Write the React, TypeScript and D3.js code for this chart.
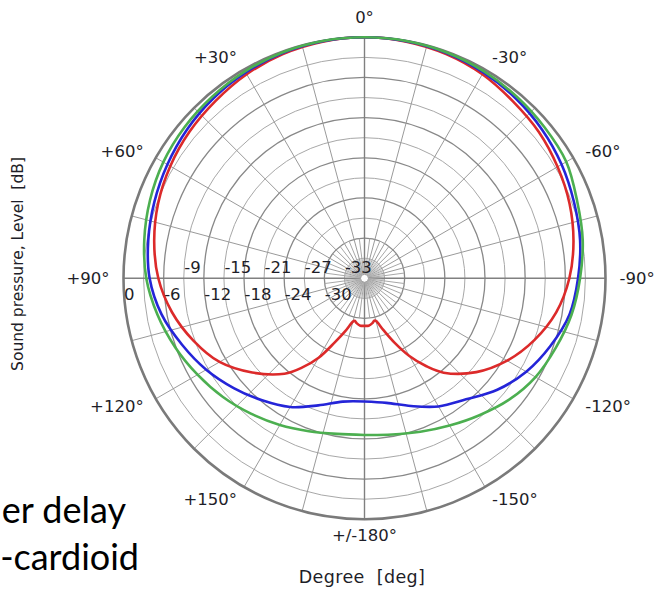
import React from "react";
import * as d3 from "d3";

const W = 657;
const H = 589;

const angles = [-180,-170,-160,-150,-140,-130,-120,-110,-100,-90,-80,-70,-60,-50,-40,-30,-20,-10,0,10,20,30,40,50,60,70,80,90,100,110,120,130,140,150,160,170,180];
const greenVals = [-12.6,-12.3,-11.6,-10.6,-9.3,-7.8,-6.5,-5.6,-4.6,-3.8,-2.9,-2.2,-1.2,-0.9,-0.6,-0.3,-0.1,0,0,0,-0.1,-0.3,-0.6,-0.9,-1.3,-1.9,-2.6,-3.4,-4.6,-5.9,-7.2,-8.4,-9.6,-10.7,-11.7,-12.4,-12.6];
const blueVals = [-17.6,-17.1,-15.7,-13.9,-12.4,-10.1,-8.1,-6.45,-4.9,-4.1,-3.3,-2.7,-2.0,-1.4,-0.9,-0.5,-0.2,-0.05,0,-0.05,-0.2,-0.5,-0.9,-1.4,-2.0,-2.6,-3.2,-3.9,-5.2,-7.0,-8.7,-10.5,-12.2,-13.8,-15.8,-17.3,-17.6];

const redAngles = [-180,-175,-170,-167,-165,-160,-155,-150,-145,-140,-130,-120,-110,-100,-90,-80,-70,-60,-50,-40,-30,-20,-10,0,10,20,30,40,50,60,70,80,90,100,110,120,130,140,145,150,155,160,165,167,170,175,180];
const redVals = [-28.9,-28.9,-29.2,-29.5,-29.4,-27.8,-25.4,-22.6,-20.0,-17.6,-14.2,-11.4,-9.0,-6.9,-5.4,-4.3,-3.4,-2.7,-2.0,-1.5,-0.8,-0.35,-0.1,0,-0.1,-0.35,-0.8,-1.4,-1.9,-2.5,-3.2,-4.1,-5.2,-6.8,-8.8,-11.0,-14.1,-17.4,-19.7,-22.3,-25.4,-27.6,-29.3,-29.5,-29.2,-28.9,-28.9];

const ringLevels = [-33,-30,-27,-24,-21,-18,-15,-12,-9,-6,-3,0];
const scaleLabelsBelow = [0,-6,-12,-18,-24,-30];
const scaleLabelsAbove = [-9,-15,-21,-27,-33];
const angleLabels = [
  { deg: 0, text: "0°" },
  { deg: 30, text: "+30°" },
  { deg: 60, text: "+60°" },
  { deg: 90, text: "+90°" },
  { deg: 120, text: "+120°" },
  { deg: 150, text: "+150°" },
  { deg: 180, text: "+/-180°" },
  { deg: -30, text: "-30°" },
  { deg: -60, text: "-60°" },
  { deg: -90, text: "-90°" },
  { deg: -120, text: "-120°" },
  { deg: -150, text: "-150°" },
];

const CX = 364.5;
const CY = 278.3;
const R = 241;
const TEXT = "#1e1e28";
const FONT = "DejaVu Sans, Verdana, sans-serif";

export default function App() {
  const r = d3.scaleLinear().domain([-36, 0]).range([0, R]);
  const toRad = (deg: number) => (deg * Math.PI) / 180;

  const line = d3
    .lineRadial<{ a: number; v: number }>()
    .angle((d) => -toRad(d.a))
    .radius((d) => r(d.v))
    .curve(d3.curveCatmullRom.alpha(0.5));

  const mk = (as: number[], vs: number[]) => as.map((a, i) => ({ a, v: vs[i] }));
  const series = [
    { color: "#dc2a2a", d: line(mk(redAngles, redVals)) },
    { color: "#2424d8", d: line(mk(angles, blueVals)) },
    { color: "#4caf50", d: line(mk(angles, greenVals)) },
  ];

  const hole = 4;
  const spokes: { a: number; r0: number; r1: number; kind: number }[] = [];
  for (let i = 0; i < 96; i++) {
    const a = i * 3.75;
    if (i % 4 === 0) spokes.push({ a, r0: hole, r1: R, kind: a % 90 === 0 ? 3 : 2 });
    else if (i % 2 === 0) spokes.push({ a, r0: hole, r1: r(-30), kind: 1 });
    else spokes.push({ a, r0: hole, r1: r(-33), kind: 0 });
  }

  const pol = (deg: number, rad: number) => [CX - rad * Math.sin(toRad(deg)), CY - rad * Math.cos(toRad(deg))];

  return (
    <svg width={W} height={H} style={{ position: "absolute", left: 0, top: 0, background: "#fff" }}>
      <g transform={`translate(${CX},${CY})`}>
        {ringLevels.slice(0, -1).map((v) => (
          <circle key={v} r={r(v)} fill="none" stroke={v % 6 === 0 ? "#888" : "#a8a8a8"} strokeWidth={v % 6 === 0 ? 1.3 : 1} />
        ))}
        {spokes.map((s, i) => {
          const a = toRad(s.a);
          return (
            <line
              key={i}
              x1={s.r0 * Math.sin(a)}
              y1={-s.r0 * Math.cos(a)}
              x2={s.r1 * Math.sin(a)}
              y2={-s.r1 * Math.cos(a)}
              stroke={s.kind === 3 ? "#808080" : s.kind === 2 ? "#9a9a9a" : s.kind === 1 ? "#a8a8a8" : "#bdbdbd"}
              strokeWidth={s.kind === 3 ? 1.4 : s.kind === 0 ? 0.8 : 1}
            />
          );
        })}
        <circle r={hole} fill="#fff" stroke="#999" strokeWidth={1} />
        <circle r={R} fill="none" stroke="#7a7a7a" strokeWidth={2.6} />
        {series.map((s, i) => (
          <path key={i} d={s.d || ""} fill="none" stroke={s.color} strokeWidth={2.6} strokeLinejoin="round" />
        ))}
      </g>
      <g fontFamily={FONT} fontSize={16.5} fill={TEXT}>
        {scaleLabelsBelow.map((v) => (
          <text key={v} x={CX - r(v) + 0.5} y={CY + 16} dy="0.36em">{v}</text>
        ))}
        {scaleLabelsAbove.map((v) => (
          <text key={v} x={CX - r(v) + 0.5} y={CY - 11} dy="0.36em">{v}</text>
        ))}
        {angleLabels.map((l) => {
          const side = Math.abs(l.deg) === 180 || l.deg === 0;
          const rr = l.deg === 0 ? 261 : Math.abs(l.deg) === 180 ? 257 : 255;
          const [x, y] = pol(l.deg, rr);
          return (
            <text key={l.deg} x={x} y={y} dy="0.36em" textAnchor={side ? "middle" : l.deg > 0 ? "end" : "start"}>
              {l.text}
            </text>
          );
        })}
        <text x={362} y={577} dy="0.36em" textAnchor="middle" fontSize={17.5} letterSpacing={0.4} style={{ whiteSpace: "pre" }}>{"Degree  [deg]"}</text>
        <text transform={`translate(17,264) rotate(-90)`} dy="0.36em" textAnchor="middle" fontSize={15.5} style={{ whiteSpace: "pre" }}>
          {"Sound pressure, Level  [dB]"}
        </text>
      </g>
      <g fontFamily="Lato, 'Open Sans', sans-serif" fontSize={36} fill="#000">
        <text x={126} y={523} textAnchor="end">er delay</text>
        <text x={139} y={570} textAnchor="end">-cardioid</text>
      </g>
    </svg>
  );
}
